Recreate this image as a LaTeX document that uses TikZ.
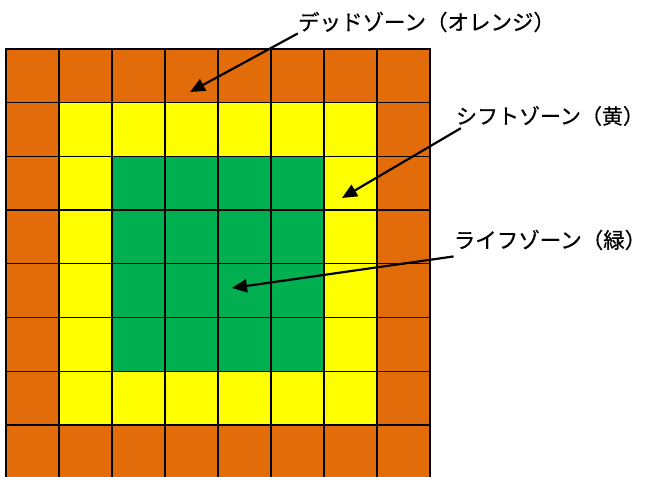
\documentclass[tikz,border=0pt]{standalone}
\usepackage{fontspec}
\newfontfamily\jp[FakeBold=0.7]{Noto Sans CJK JP}
\usetikzlibrary{arrows.meta}
\definecolor{zorange}{HTML}{E36C0A}
\definecolor{zyellow}{HTML}{FFFF00}
\definecolor{zgreen}{HTML}{00B050}
\tikzset{
  lbl/.style={font=\jp\fontsize{21.5}{25}\selectfont, inner sep=0pt},
  arr/.style={line width=2.2pt, -{Triangle[length=15pt,width=13pt]}},
  gridline/.style={line width=1.3pt, black}
}
\begin{document}
\begin{tikzpicture}[x=1pt,y=-1pt]
\useasboundingbox (0,0) rectangle (647,476);
\clip (0,0) rectangle (647,476);
\def\w{53}\def\h{53.7}
\fill[zorange] (6,49) rectangle (430,478.6);
\fill[zyellow] (59,102.7) rectangle (377,424.9);
\fill[zgreen] (112,156.4) rectangle (324,371.2);
\foreach \k in {0,...,8}{
  \draw[gridline] (6+\k*\w,49) -- (6+\k*\w,478.6);
  \draw[gridline] (6,49+\k*\h) -- (430,49+\k*\h);
}
\draw[line width=2.4pt] (5,49) -- (431,49);
\node[lbl] (dead) at (426.5,22) {デッドゾーン（オレンジ）};
\node[lbl, font=\jp\fontsize{21}{25}\selectfont] (shift) at (550,116) {シフトゾーン（黄）};
\node[lbl] (life) at (550,240) {ライフゾーン（緑）};
\coordinate (t1) at (190,92);
\coordinate (t2) at (342,198);
\coordinate (t3) at (232,288);
\draw[arr] ([xshift=0pt,yshift=-1pt]dead.south west) -- (t1);
\draw[arr] ([xshift=5pt,yshift=-2pt]shift.south west) -- (t2);
\draw[arr] ([xshift=0pt,yshift=-6pt]life.south west) -- (t3);
\end{tikzpicture}
\end{document}
